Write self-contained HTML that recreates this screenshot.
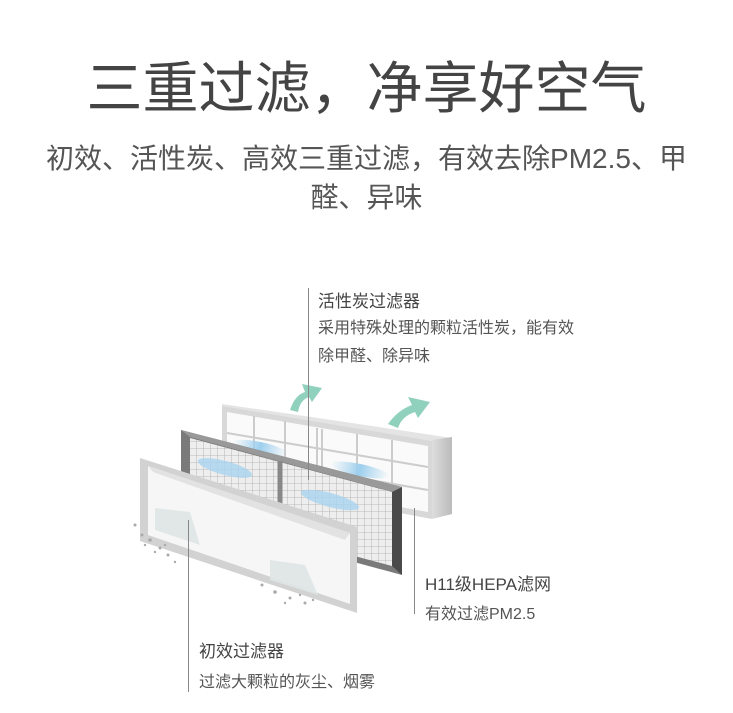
<!DOCTYPE html>
<html><head><meta charset="utf-8"><style>
html,body{margin:0;padding:0;background:#fff;}
body{width:733px;height:713px;position:relative;overflow:hidden;font-family:"Liberation Sans","Noto Sans CJK SC",sans-serif;}
.t{position:absolute;white-space:nowrap;}
</style></head><body>
<div class="t" style="left:0;width:733px;text-align:center;top:57px;font-size:56px;color:#444;line-height:64px;">三重过滤，净享好空气</div>
<div class="t" style="left:0;width:733px;text-align:center;top:139px;font-size:28px;color:#555;line-height:39px;white-space:normal;padding:0 30px;box-sizing:border-box;">初效、活性炭、高效三重过滤，有效去除PM2.5、甲<br>醛、异味</div>
<svg width="733" height="713" style="position:absolute;left:0;top:0">
<defs>
<linearGradient id="side" x1="0" x2="1"><stop offset="0" stop-color="#ddd"/><stop offset="1" stop-color="#bbb"/></linearGradient>
<linearGradient id="blue" x1="0" x2="1"><stop offset="0" stop-color="#a8d4ef" stop-opacity="0"/><stop offset=".5" stop-color="#9ccfee"/><stop offset="1" stop-color="#a8d4ef" stop-opacity="0"/></linearGradient>
<pattern id="grid" width="7" height="7" patternUnits="userSpaceOnUse"><rect width="7" height="7" fill="#eee"/><path d="M0 0H7M0 0V7" stroke="#aaa" stroke-width="0.8"/></pattern>
</defs>
<path d="M290 410 Q295 395 305 392 L302 384 L322 388 L312 402 L309 397 Q300 400 298 412Z" fill="#8fd1bc"/>
<path d="M388 424 Q398 410 412 405 L408 397 L430 402 L418 418 L415 412 Q402 416 398 428Z" fill="#8fd1bc"/>
<polygon points="222,404 318,418 452,438 432,442 222,408" fill="#e4e4e4"/>
<polygon points="432,440 452,437 452,514 432,519" fill="url(#side)"/>
<polygon points="222,406 432,441 432,519 222,480" fill="#d8d8d8"/>
<polygon points="227,412 428,446 428,512 227,476" fill="#fafafa"/>
<g stroke="#ccc" stroke-width="2">
<line x1="317" y1="428" x2="317" y2="495"/><line x1="322" y1="429" x2="322" y2="496"/>
<line x1="254" y1="416" x2="254" y2="482"/><line x1="285" y1="421" x2="285" y2="488"/>
<line x1="357" y1="434" x2="357" y2="502"/><line x1="392" y1="440" x2="392" y2="507"/>
<line x1="227" y1="433" x2="428" y2="467"/><line x1="227" y1="455" x2="428" y2="490"/>
</g>
<ellipse cx="260" cy="448" rx="28" ry="6" fill="url(#blue)" transform="rotate(12 260 448)"/>
<ellipse cx="360" cy="470" rx="30" ry="6" fill="url(#blue)" transform="rotate(12 360 470)"/>
<polygon points="181,430 402,487 402,575 181,515" fill="#7a7a7a"/>
<polygon points="181,430 402,487 393,492 190,437" fill="#999"/>
<polygon points="190,438 392,492 392,566 190,512" fill="url(#grid)"/>
<line x1="280" y1="461" x2="280" y2="536" stroke="#888" stroke-width="5"/>
<polygon points="392,492 402,487 402,575 392,566" fill="#4a4a4a"/>
<ellipse cx="225" cy="468" rx="28" ry="7" fill="#a9d3ef" opacity=".8" transform="rotate(15 225 468)"/>
<ellipse cx="330" cy="500" rx="30" ry="7" fill="#a9d3ef" opacity=".8" transform="rotate(15 330 500)"/>
<polygon points="140,458 357,527 357,613 140,541" fill="#d2d2d2"/>
<polygon points="148,466 350,533 350,604 148,535" fill="#f6f6f6"/>
<polygon points="148,466 350,533 345,540 153,472" fill="#e2e2e2"/>
<polygon points="155,508 190,512 200,545 155,530" fill="#dfe6e6" opacity=".9"/>
<polygon points="270,560 305,565 318,595 270,580" fill="#dfe6e6" opacity=".9"/>
<g fill="#aaa">
<circle cx="135" cy="525" r="1.5"/><circle cx="142" cy="535" r="1.5"/><circle cx="150" cy="540" r="1.8"/><circle cx="160" cy="548" r="1.5"/><circle cx="168" cy="555" r="1.5"/><circle cx="155" cy="552" r="1.2"/><circle cx="175" cy="562" r="1.2"/><circle cx="165" cy="545" r="1.2"/><circle cx="145" cy="545" r="1.2"/>
<circle cx="262" cy="585" r="1.5"/><circle cx="275" cy="592" r="1.8"/><circle cx="290" cy="598" r="1.5"/><circle cx="300" cy="595" r="1.2"/><circle cx="305" cy="603" r="1.5"/><circle cx="285" cy="603" r="1.2"/><circle cx="313" cy="600" r="1.2"/>
</g>
<g stroke="#888" stroke-width="1">
<line x1="308.5" y1="288" x2="308.5" y2="480"/>
<line x1="414.5" y1="508" x2="414.5" y2="614"/>
<line x1="188.5" y1="520" x2="188.5" y2="692"/>
</g>
</svg>
<div class="t" style="left:318px;top:287px;font-size:17px;color:#444;">活性炭过滤器</div>
<div class="t" style="left:318px;top:315px;font-size:16px;color:#555;line-height:28px;">采用特殊处理的颗粒活性炭，能有效<br>除甲醛、除异味</div>
<div class="t" style="left:425px;top:570px;font-size:17px;color:#444;">H11级HEPA滤网</div>
<div class="t" style="left:425px;top:600px;font-size:16px;color:#555;">有效过滤PM2.5</div>
<div class="t" style="left:199px;top:637px;font-size:17px;color:#444;">初效过滤器</div>
<div class="t" style="left:199px;top:668px;font-size:16px;color:#555;">过滤大颗粒的灰尘、烟雾</div>
</body></html>
